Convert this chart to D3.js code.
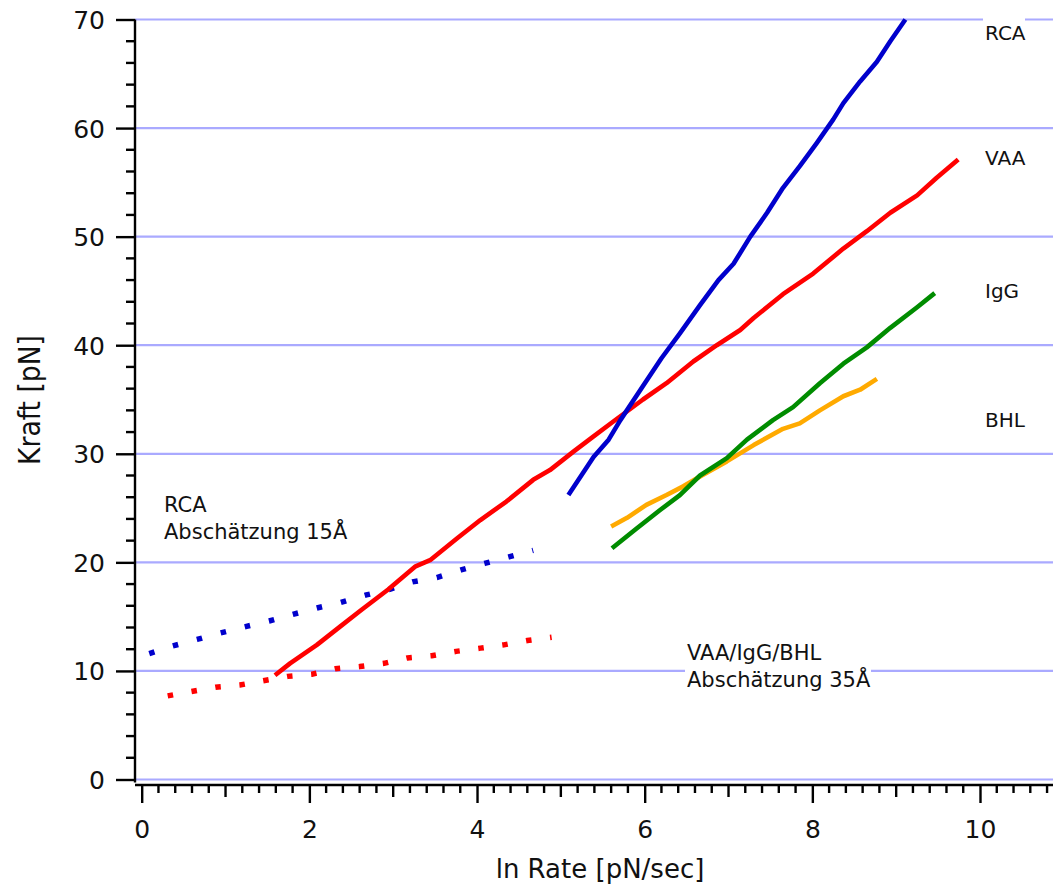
<!DOCTYPE html>
<html>
<head>
<meta charset="utf-8">
<script src="https://cdn.jsdelivr.net/npm/d3@7"></script>
<style>
  html, body { margin: 0; padding: 0; background: #fff; }
  svg { display: block; font-family: "DejaVu Sans", Verdana, sans-serif; }
</style>
</head>
<body>
<svg id="chart" width="1053" height="886"></svg>
<script>
// ---- data ----
const xTicks = [0, 2, 4, 6, 8, 10];
const yTicks = [0, 10, 20, 30, 40, 50, 60, 70];

const rcaX = [5.09,5.39,5.57,5.71,5.95,6.20,6.42,6.66,6.88,7.06,7.26,7.46,7.65,7.85,8.05,8.25,8.37,8.57,8.77,8.93,9.11];
const rcaY = [26.2,29.7,31.3,33.1,35.9,38.8,41.1,43.7,46.0,47.5,50.0,52.2,54.5,56.5,58.6,60.8,62.3,64.3,66.1,68.0,70.0];

const vaaX = [1.59,1.77,2.09,2.37,2.60,2.94,3.26,3.44,3.76,4.04,4.35,4.67,4.87,5.15,5.39,5.63,5.98,6.26,6.58,6.86,7.14,7.30,7.65,8.01,8.37,8.65,8.93,9.25,9.48,9.74];
const vaaY = [9.6,10.7,12.4,14.1,15.5,17.5,19.6,20.2,22.2,23.9,25.6,27.6,28.5,30.2,31.6,33.0,35.0,36.5,38.5,40.0,41.4,42.5,44.7,46.6,48.9,50.5,52.2,53.8,55.4,57.1];

const iggX = [5.61,5.90,6.18,6.42,6.66,6.98,7.22,7.53,7.77,8.09,8.37,8.65,8.93,9.25,9.46];
const iggY = [21.3,23.1,24.8,26.2,28.0,29.6,31.3,33.1,34.3,36.5,38.3,39.8,41.6,43.5,44.8];

const bhlX = [5.60,5.79,6.02,6.26,6.46,6.66,6.98,7.30,7.65,7.85,8.09,8.37,8.57,8.77];
const bhlY = [23.3,24.1,25.3,26.2,27.0,27.9,29.3,30.8,32.3,32.8,34.0,35.3,35.9,36.9];

const rcaEstX = [0.09,0.37,0.66,0.94,1.25,1.52,1.80,2.09,2.37,2.68,2.95,3.23,3.52,3.81,4.09,4.38,4.67];
const rcaEstY = [11.6,12.3,12.9,13.5,14.1,14.6,15.2,15.8,16.3,17.0,17.5,18.2,18.6,19.3,19.9,20.5,21.1];

const vaaEstX = [0.31,0.59,0.88,1.17,1.45,1.74,2.03,2.31,2.60,2.89,3.17,3.46,3.75,4.04,4.32,4.60,4.89];
const vaaEstY = [7.7,8.1,8.5,8.7,9.1,9.5,9.7,10.2,10.4,10.7,11.2,11.4,11.8,12.1,12.4,12.8,13.1];

const seriesNames = ["RCA", "VAA", "IgG", "BHL"];

// ---- layout ----
const svg = d3.select("#chart");
const x = d3.scaleLinear().domain([0, 10]).range([141.7, 980]);
const y = d3.scaleLinear().domain([0, 70]).range([779.5, 19.5]);
const axisLeft = 135, axisRight = 1053, xAxisY = 785;

const zip = (xs, ys) => xs.map((v, i) => [v, ys[i]]);
const line = d3.line().x(d => x(d[0])).y(d => y(d[1]));

// gridlines
svg.append("g").selectAll("line").data(yTicks).join("line")
  .attr("x1", axisLeft).attr("x2", axisRight)
  .attr("y1", d => y(d)).attr("y2", d => y(d))
  .attr("stroke", "#aaaaff").attr("stroke-width", 2.2);

// Y axis
const yAxis = d3.axisLeft(y).tickValues(yTicks).tickSize(19).tickPadding(10).tickSizeOuter(0);
const gy = svg.append("g").attr("transform", `translate(${axisLeft},0)`).call(yAxis);
gy.select(".domain").attr("stroke", "#000").attr("stroke-width", 2.4)
  .attr("d", `M0,${y(70)}V${y(0) + 3}`);
gy.selectAll(".tick line").attr("stroke", "#000").attr("stroke-width", 2.4);
gy.selectAll(".tick text").attr("font-size", 25).attr("fill", "#111")
  .attr("font-family", "DejaVu Sans, sans-serif").attr("dy", "0.36em").attr("x", -30);
const yMinor = d3.range(0, 70.01, 2).filter(v => v % 10 !== 0);
gy.selectAll(".minor").data(yMinor).join("line").attr("class", "minor")
  .attr("x1", -9).attr("x2", 0).attr("y1", d => y(d)).attr("y2", d => y(d))
  .attr("stroke", "#000").attr("stroke-width", 2.4);

// X axis
const xAxis = d3.axisBottom(x).tickValues(xTicks).tickSize(18).tickPadding(17).tickSizeOuter(0);
const gx = svg.append("g").attr("transform", `translate(0,${xAxisY})`).call(xAxis);
gx.select(".domain").attr("stroke", "#000").attr("stroke-width", 2.4)
  .attr("d", `M${axisLeft},0H${axisRight}`);
gx.selectAll(".tick line").attr("stroke", "#000").attr("stroke-width", 2.4);
gx.selectAll(".tick text").attr("font-size", 25).attr("fill", "#111")
  .attr("font-family", "DejaVu Sans, sans-serif");
const xMinor = d3.range(0, 10.81, 0.2).map(v => Math.round(v * 10) / 10).filter(v => Math.abs(v / 2 - Math.round(v / 2)) > 1e-6);
gx.selectAll(".minor").data(xMinor).join("line").attr("class", "minor")
  .attr("x1", d => x(d)).attr("x2", d => x(d)).attr("y1", 0)
  .attr("y2", d => Math.abs(d - Math.round(d)) < 1e-6 ? 12 : 8)
  .attr("stroke", "#000").attr("stroke-width", 2.4);

// axis titles
svg.append("text").attr("x", 600).attr("y", 878).attr("text-anchor", "middle")
  .attr("font-size", 26).attr("fill", "#111").text("ln Rate [pN/sec]");
svg.append("text").attr("transform", "translate(40,400) rotate(-90)")
  .attr("text-anchor", "middle").attr("font-size", 31).attr("fill", "#111")
  .attr("textLength", 130).attr("lengthAdjust", "spacingAndGlyphs").text("Kraft [pN]");

// estimate (dotted) lines
svg.append("path").datum(zip(rcaEstX, rcaEstY)).attr("d", line)
  .attr("fill", "none").attr("stroke", "#0000cc").attr("stroke-width", 5.5)
  .attr("stroke-dasharray", "5.5,19.3");
svg.append("path").datum(zip(vaaEstX, vaaEstY)).attr("d", line)
  .attr("fill", "none").attr("stroke", "#ff0000").attr("stroke-width", 5.5)
  .attr("stroke-dasharray", "5.5,18.7");

// solid lines
const solid = [
  {x: bhlX, y: bhlY, c: "#ffaa00"},
  {x: iggX, y: iggY, c: "#008c00"},
  {x: vaaX, y: vaaY, c: "#ff0000"},
  {x: rcaX, y: rcaY, c: "#0000cc"}
];
solid.forEach(s => {
  svg.append("path").datum(zip(s.x, s.y)).attr("d", line)
    .attr("fill", "none").attr("stroke", s.c).attr("stroke-width", 4.6)
    .attr("stroke-linejoin", "round");
});

// right-hand series labels
const labelPos = [[985, 40], [985, 165], [985, 298], [985, 427]];
svg.append("rect").attr("x", 983).attr("y", 16).attr("width", 42).attr("height", 30).attr("fill", "#fff");
seriesNames.forEach((n, i) => {
  svg.append("text").attr("x", labelPos[i][0]).attr("y", labelPos[i][1])
    .attr("font-size", 20).attr("fill", "#111").text(n);
});

// annotations
const ann1 = svg.append("text").attr("font-size", 21).attr("fill", "#111");
ann1.append("tspan").attr("x", 164).attr("y", 512).text("RCA");
ann1.append("tspan").attr("x", 164).attr("y", 539).text("Abschätzung 15Å");

svg.append("rect").attr("x", 685).attr("y", 640).attr("width", 186).attr("height", 52).attr("fill", "#fff");
const ann2 = svg.append("text").attr("font-size", 21).attr("fill", "#111");
ann2.append("tspan").attr("x", 687).attr("y", 660).text("VAA/IgG/BHL");
ann2.append("tspan").attr("x", 687).attr("y", 687).text("Abschätzung 35Å");
</script>
</body>
</html>
